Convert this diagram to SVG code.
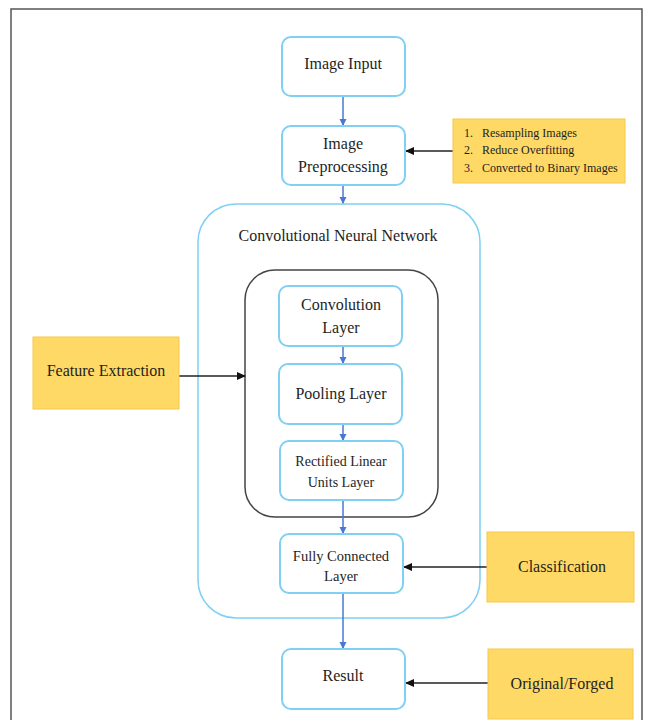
<svg xmlns="http://www.w3.org/2000/svg" width="645" height="720" viewBox="0 0 645 720">
<defs>
<style>
.t{font-family:"Liberation Serif","Times New Roman",serif;fill:#1e1e1e;text-anchor:middle}
.bb{fill:#fff;stroke:#7fd0f2;stroke-width:2}
.yb{fill:#ffd966;stroke:#f7c74a;stroke-width:1}
.bl{stroke:#4a78d0;stroke-width:1.5;fill:none}
.kl{stroke:#222;stroke-width:1.3;fill:none}
</style>
<marker id="ab" markerWidth="8" markerHeight="8" refX="6" refY="3.5" orient="auto" markerUnits="userSpaceOnUse"><path d="M0,0 L7,3.5 L0,7 z" fill="#4a78d0"/></marker>
<marker id="ak" markerWidth="10" markerHeight="10" refX="8" refY="4" orient="auto" markerUnits="userSpaceOnUse"><path d="M0,0 L9,4 L0,8 z" fill="#111"/></marker>
</defs>
<rect x="0" y="0" width="645" height="720" fill="#fff"/>
<rect id="frame" x="11" y="9" width="631" height="720" fill="#fff" stroke="#555" stroke-width="1.5"/>

<g id="cnn">
<rect x="198" y="204" width="282" height="414" rx="38" fill="#fff" stroke="#7fd0f2" stroke-width="1.5"/>
<text class="t" x="338" y="241" font-size="16">Convolutional Neural Network</text>
</g>
<g id="inner">
<rect x="245" y="270" width="193" height="247" rx="30" fill="#fff" stroke="#444" stroke-width="1.5"/>
</g>

<g id="connectors">
<line class="bl" x1="343" y1="96" x2="343" y2="125" marker-end="url(#ab)"/>
<line class="bl" x1="343" y1="185" x2="343" y2="203" marker-end="url(#ab)"/>
<line class="bl" x1="343" y1="346" x2="343" y2="363" marker-end="url(#ab)"/>
<line class="bl" x1="343" y1="424" x2="343" y2="440" marker-end="url(#ab)"/>
<line class="bl" x1="343" y1="500" x2="343" y2="533" marker-end="url(#ab)"/>
<line class="bl" x1="343" y1="593" x2="343" y2="648" marker-end="url(#ab)"/>
<line class="kl" x1="453" y1="151" x2="406" y2="151" marker-end="url(#ak)"/>
<line class="kl" x1="179" y1="376" x2="245" y2="376" marker-end="url(#ak)"/>
<line class="kl" x1="487" y1="567" x2="404" y2="567" marker-end="url(#ak)"/>
<line class="kl" x1="488" y1="683" x2="406" y2="683" marker-end="url(#ak)"/>
</g>

<g id="image-input">
<rect class="bb" x="282" y="37" width="123" height="59" rx="9"/>
<text class="t" x="343" y="69" font-size="16">Image Input</text>
</g>
<g id="preprocessing">
<rect class="bb" x="282" y="126" width="123" height="59" rx="9"/>
<text class="t" x="343" y="149" font-size="16">Image</text>
<text class="t" x="343" y="172" font-size="16">Preprocessing</text>
</g>
<g id="preproc-notes">
<rect class="yb" x="453" y="119" width="172" height="64"/>
<text class="t" x="464" y="137" font-size="12" style="text-anchor:start">1.</text>
<text class="t" x="482" y="137" font-size="12" style="text-anchor:start">Resampling Images</text>
<text class="t" x="464" y="154" font-size="12" style="text-anchor:start">2.</text>
<text class="t" x="482" y="154" font-size="12" style="text-anchor:start">Reduce Overfitting</text>
<text class="t" x="464" y="172" font-size="12" style="text-anchor:start">3.</text>
<text class="t" x="482" y="172" font-size="12" style="text-anchor:start">Converted to Binary Images</text>
</g>
<g id="conv">
<rect class="bb" x="279" y="286" width="123" height="60" rx="9"/>
<text class="t" x="341" y="310" font-size="16">Convolution</text>
<text class="t" x="341" y="333" font-size="16">Layer</text>
</g>
<g id="pool">
<rect class="bb" x="279" y="364" width="123" height="60" rx="9"/>
<text class="t" x="341" y="399" font-size="16">Pooling Layer</text>
</g>
<g id="relu">
<rect class="bb" x="280" y="441" width="123" height="59" rx="9"/>
<text class="t" x="341" y="466" font-size="14">Rectified Linear</text>
<text class="t" x="341" y="487" font-size="14">Units Layer</text>
</g>
<g id="fc">
<rect class="bb" x="280" y="534" width="123" height="59" rx="9"/>
<text class="t" x="341" y="561" font-size="14.5">Fully Connected</text>
<text class="t" x="341" y="581" font-size="14.5">Layer</text>
</g>
<g id="result">
<rect class="bb" x="282" y="649" width="123" height="60" rx="9"/>
<text class="t" x="343" y="681" font-size="16">Result</text>
</g>
<g id="feature">
<rect class="yb" x="33" y="337" width="146" height="72"/>
<text class="t" x="106" y="376" font-size="16">Feature Extraction</text>
</g>
<g id="classification">
<rect class="yb" x="487" y="532" width="147" height="70"/>
<text class="t" x="562" y="572" font-size="16">Classification</text>
</g>
<g id="original">
<rect class="yb" x="488" y="649" width="145" height="70"/>
<text class="t" x="562" y="689" font-size="16">Original/Forged</text>
</g>
</svg>
